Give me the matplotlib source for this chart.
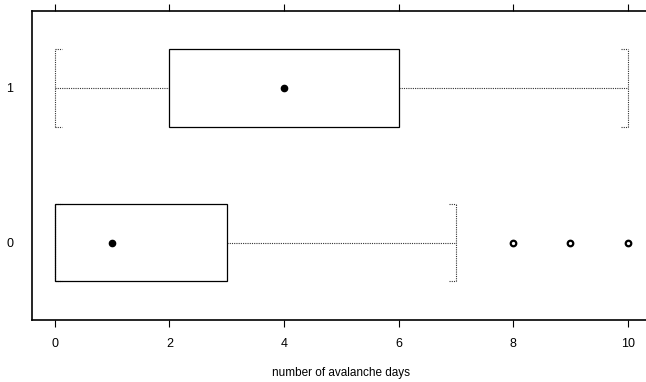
import matplotlib
matplotlib.use("Agg")
import matplotlib.pyplot as plt
from matplotlib.patches import Rectangle

# box summaries per group (lattice bwplot style)
groups = ["0", "1"]
q1 = [0, 2]
medians = [1, 4]
q3 = [3, 6]
whisker_lo = [0, 0]
whisker_hi = [7, 10]
outliers = [[8, 9, 10], []]
x_ticks = [0, 2, 4, 6, 8, 10]

plt.rcParams["font.family"] = ["Liberation Sans", "DejaVu Sans"]

fig = plt.figure(figsize=(6.46, 3.82), dpi=100)
ax = fig.add_axes([32 / 646, 62 / 382, 618.6 / 646, 309.5 / 382])

half = 0.25
cap = 0.12
dot_style = dict(color="#333333", lw=0.8, ls=(0, (1, 1)))

for i, name in enumerate(groups):
    y = i + 1
    # whiskers
    ax.hlines(y, whisker_lo[i], q1[i], **dot_style)
    ax.hlines(y, q3[i], whisker_hi[i], **dot_style)
    # staples with short bracket ends
    ax.vlines([whisker_lo[i], whisker_hi[i]], y - half, y + half, **dot_style)
    ax.hlines([y - half, y + half], whisker_lo[i], whisker_lo[i] + cap, **dot_style)
    ax.hlines([y - half, y + half], whisker_hi[i] - cap, whisker_hi[i], **dot_style)
    # box
    ax.add_patch(Rectangle((q1[i], y - half), q3[i] - q1[i], 2 * half,
                           fill=False, ec="black", lw=0.9, zorder=3))
    # median dot
    ax.plot(medians[i], y, "o", color="black", ms=4.5, zorder=4)
    # outliers
    if outliers[i]:
        ax.plot(outliers[i], [y] * len(outliers[i]), "o", mfc="white",
                mec="black", mew=1.6, ms=4, zorder=4)

ax.set_xlim(-0.4, 10.4)
ax.set_ylim(0.5, 2.5)
ax.set_yticks([1, 2])
ax.set_yticklabels(groups)
ax.set_xticks(x_ticks)
ax.tick_params(axis="x", top=True, bottom=True, labeltop=False,
               direction="out", length=5, width=0.8, labelsize=9, pad=8)
ax.tick_params(axis="y", left=False, labelsize=9, pad=10)
for s in ax.spines.values():
    s.set_linewidth(1.2)
ax.set_xlabel("number of avalanche days", fontsize=8.5, labelpad=12)

fig.savefig("out.png", dpi=100)
